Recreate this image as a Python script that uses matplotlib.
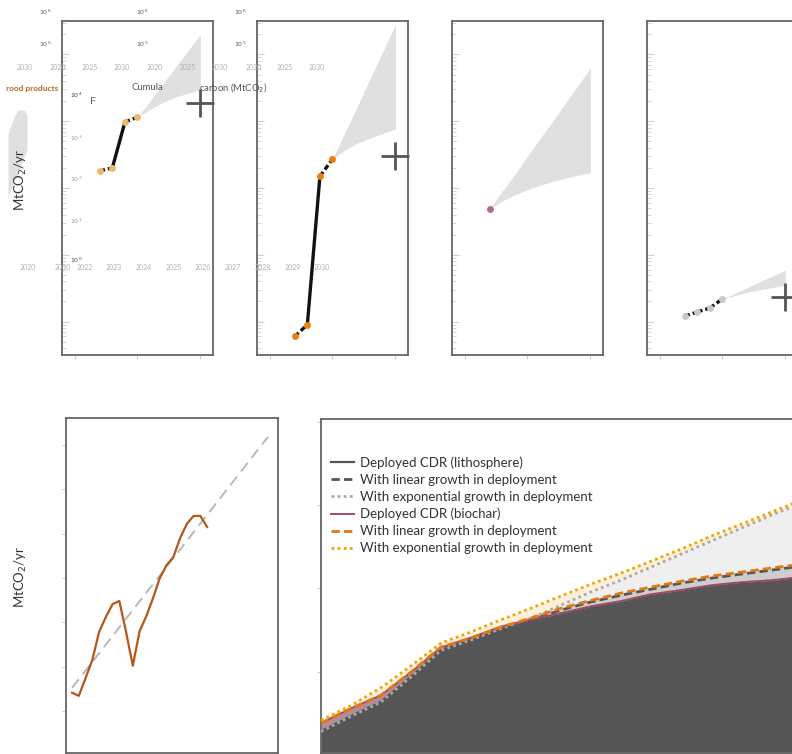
import numpy as np
import matplotlib
matplotlib.use('Agg')
import matplotlib.pyplot as plt
from matplotlib.ticker import LogLocator, NullFormatter

plt.rcParams['font.family'] = ['Lato', 'DejaVu Sans']

W, H = 792, 754

# ---- top row: annual removals (MtCO2/yr, log scale) ----
hist_years = [2022, 2023, 2024, 2025]
proj_years = [2025, 2026, 2027, 2028, 2029, 2030]

a_hist = [0.18, 0.20, 0.97, 1.15]
a_hi = [1.15, 2.0, 3.6, 6.4, 11.3, 20]
a_lo = [1.15, 1.5, 1.9, 2.3, 2.6, 3.0]
a_target = 1.9

b_hist = [6e-4, 9e-4, 0.15, 0.27]
b_hi = [0.27, 0.68, 1.7, 4.4, 11, 28]
b_lo = [0.27, 0.37, 0.47, 0.56, 0.66, 0.76]
b_target = 0.30

c_point_year = [2022]
c_point = [0.049]
c_years = [2022, 2023, 2024, 2025, 2026, 2027, 2028, 2029, 2030]
c_hi = [0.049, 0.09, 0.16, 0.30, 0.55, 1.0, 1.85, 3.4, 6.2]
c_lo = [0.049, 0.064, 0.079, 0.094, 0.11, 0.125, 0.14, 0.155, 0.17]

d_hist = [1.21e-3, 1.39e-3, 1.6e-3, 2.19e-3]
d_hi = [2.19e-3, 2.67e-3, 3.25e-3, 3.97e-3, 4.84e-3, 5.9e-3]
d_lo = [2.19e-3, 2.45e-3, 2.75e-3, 3.0e-3, 3.25e-3, 3.5e-3]
d_target = 2.34e-3

# stray fragment on the far left
blob_y = [3, 50, 67, 85, 90]
blob_left = [8, 8, 8, 15, 18]
blob_right = [8, 27, 27, 27, 24]

# ---- bottom left: annual series with trend ----
e_years = list(range(2000, 2021))
e_vals = [4.1, 3.4, 7.4, 11.5, 17.8, 21.2, 24.1, 24.8, 17.8, 10.2, 18.0,
          21.4, 25.5, 30.0, 32.9, 34.7, 39.0, 42.2, 44.0, 44.0, 41.5]
e_trend_years = [2000, 2029]
e_trend_vals = [5.2, 61.8]

# ---- bottom right: cumulative stored carbon (log scale) ----
f_years = [2022.0, 2022.5, 2023.0, 2023.5, 2024.0, 2024.5, 2025.0, 2025.5, 2026.0,
           2026.5, 2027.0, 2027.5, 2028.0, 2028.5, 2029.0, 2029.5, 2030.0]
litho_dep = [1.9, 2.9, 4.3, 8.6, 18, 24, 33, 40, 48, 58, 67, 81, 91, 104, 113, 119, 130]
biochar_dep = [0.5, 0.7, 0.9, 1.2, 1.5, 1.6, 1.8, 2.2, 2.6, 3.1, 3.6, 4.2, 4.8, 5.4, 6.0, 6.6, 7.2]
litho_lin = [1.9, 2.9, 4.3, 8.6, 18, 24, 33, 42, 55, 69, 83, 98, 116, 133, 149, 166, 186]
litho_exp = [1.9, 2.9, 4.3, 8.6, 18, 24, 33, 44, 63, 91, 126, 181, 259, 371, 531, 760, 1059]
biochar_lin = [2.4, 3.6, 5.2, 9.9, 19.8, 25.4, 34.4, 44, 58, 72, 88, 104, 122, 141, 157, 176, 196]
biochar_exp = [2.6, 3.9, 6.4, 11.7, 22, 30, 42, 58, 81, 113, 153, 213, 297, 426, 593, 826, 1151]
legend_labels = ['Deployed CDR (lithosphere)', 'With linear growth in deployment',
                 'With exponential growth in deployment', 'Deployed CDR (biochar)',
                 'With linear growth in deployment', 'With exponential growth in deployment']

# ---- stray texts ----
row1_labels = ['2030', '2020', '2025', '2030', '2020', '2025', '2030', '2020', '2025', '2030']
row2_labels = ['2020', '2030', '2022', '2023', '2024', '2025', '2026', '2027', '2028', '2029', '2030']
pow_labels = [r'$10^{4}$', r'$10^{3}$', r'$10^{2}$', r'$10^{1}$', r'$10^{0}$']

fig = plt.figure(figsize=(W / 100, H / 100), dpi=100)


def px_axes(x0, y0, x1, y1):
    return fig.add_axes([x0 / W, 1 - y1 / H, (x1 - x0) / W, (y1 - y0) / H])


def px_text(x, y, s, **kw):
    kw.setdefault('ha', 'center')
    kw.setdefault('va', 'center')
    fig.text(x / W, 1 - y / H, s, **kw)


def frame(ax):
    for s in ax.spines.values():
        s.set_color('#666666')
        s.set_linewidth(1.3)


def style_top(ax):
    ax.set_yscale('log')
    ax.set_xlim(2019, 2031)
    ax.set_ylim(10 ** -3.5, 10 ** 1.5)
    ax.set_xticks([2020, 2025, 2030])
    ax.tick_params(axis='x', direction='out', length=3, color='#cccccc', labelbottom=False)
    ax.yaxis.set_major_locator(LogLocator(base=10, numticks=12))
    ax.yaxis.set_minor_locator(LogLocator(base=10, subs=np.arange(2, 10), numticks=12))
    ax.yaxis.set_minor_formatter(NullFormatter())
    ax.tick_params(axis='y', which='both', direction='in', color='#d0d0d0', labelleft=False)
    ax.tick_params(axis='y', which='major', length=5)
    ax.tick_params(axis='y', which='minor', length=3)
    frame(ax)


def draw_hist(ax, years, vals, styles, color):
    for i, ls in enumerate(styles):
        ax.plot(years[i:i + 2], vals[i:i + 2], color='#111111', lw=2.4, ls=ls,
                solid_capstyle='butt', zorder=3)
    ax.plot(years, vals, 'o', ms=5, color=color, mec='none', zorder=4)


dash = (0, (1.6, 0.9))
fan_col = '#e0e0e0'

axA = px_axes(62, 21, 213, 355)
style_top(axA)
axA.fill_between(proj_years, a_lo, a_hi, color=fan_col, lw=0, zorder=1)
draw_hist(axA, hist_years, a_hist, [dash, '-', dash], '#f0b86e')
axA.plot([2030], [a_target], marker='+', ms=20, mew=2, color='#555555', zorder=5, clip_on=False)

axB = px_axes(257, 21, 408, 355)
style_top(axB)
axB.fill_between(proj_years, b_lo, b_hi, color=fan_col, lw=0, zorder=1)
draw_hist(axB, hist_years, b_hist, [dash, '-', dash], '#e8820c')
axB.plot([2030], [b_target], marker='+', ms=20, mew=2, color='#555555', zorder=5, clip_on=False)

axC = px_axes(452, 21, 603, 355)
style_top(axC)
axC.fill_between(c_years, c_lo, c_hi, color=fan_col, lw=0, zorder=1)
axC.plot(c_point_year, c_point, 'o', ms=5, color='#b07080', mec='none', zorder=4)

axD = px_axes(647, 21, 798, 355)
style_top(axD)
axD.fill_between(proj_years, d_lo, d_hi, color=fan_col, lw=0, zorder=1)
draw_hist(axD, hist_years, d_hist, [dash, dash, dash], '#c8c8c8')
axD.plot([2030], [d_target], marker='+', ms=20, mew=2, color='#555555', zorder=5, clip_on=False)

axBlob = px_axes(0, 100, 40, 200)
axBlob.set_xlim(0, 40)
axBlob.set_ylim(0, 100)
axBlob.axis('off')
axBlob.fill_betweenx(blob_y, blob_left, blob_right, color=fan_col, lw=0)

# ---- panel E ----
axE = px_axes(66, 418, 278, 753)
axE.plot(e_trend_years, e_trend_vals, color='#b4b4b4', lw=1.3, ls=(0, (6, 3.5)), zorder=2)
axE.plot(e_years, e_vals, color='#b5561b', lw=1.6, zorder=3)
axE.set_xlim(1999.1, 2030.5)
axE.set_ylim(-9.5, 66.1)
axE.set_yticks(range(0, 61, 10))
axE.set_xticks([])
axE.tick_params(axis='y', direction='out', length=3, color='#cccccc', labelleft=False)
frame(axE)

# ---- panel F ----
axF = px_axes(321, 419, 801, 753)
axF.set_yscale('log')
ybot = 10 ** 0.02
axF.set_ylim(ybot, 10 ** 4.04)
axF.set_xlim(2022, 2030)
total_dep = np.array(litho_dep) + np.array(biochar_dep)
axF.fill_between(f_years, ybot, litho_dep, color='#555555', lw=0, zorder=1)
axF.fill_between(f_years, litho_dep, total_dep, color='#b68b94', lw=0, zorder=1)
axF.fill_between(f_years, total_dep, biochar_lin, color='#cdcdcd', lw=0, zorder=0.9)
axF.fill_between(f_years, biochar_lin, litho_exp, color='#efefef', lw=0, zorder=0.8)
axF.fill_between(f_years, np.maximum(litho_exp, biochar_lin), biochar_exp,
                 color='#fcefdc', lw=0, zorder=0.7)
dot = (0, (1, 1.2))
h1, = axF.plot(f_years, litho_dep, color='#555555', lw=1.6, zorder=3)
h2, = axF.plot(f_years, litho_lin, color='#555555', lw=2, ls=(0, (3, 1.5)), zorder=3)
h3, = axF.plot(f_years, litho_exp, color='#aaaaaa', lw=2, ls=dot, zorder=3)
h4, = axF.plot(f_years, total_dep, color='#a04a68', lw=1.4, zorder=3)
h5, = axF.plot(f_years, biochar_lin, color='#e07a10', lw=2, ls=(0, (3, 1.5)), zorder=4)
h6, = axF.plot(f_years, biochar_exp, color='#f0a500', lw=2, ls=dot, zorder=4)
axF.yaxis.set_major_locator(LogLocator(base=10, numticks=8))
axF.yaxis.set_minor_locator(LogLocator(base=10, subs=[], numticks=8))
axF.set_xticks([])
axF.tick_params(axis='y', which='major', direction='out', length=3, color='#cccccc', labelleft=False)
frame(axF)
axF.legend([h1, h2, h3, h4, h5, h6], legend_labels, loc='upper left',
           bbox_to_anchor=(331 / W, 1 - 456 / H), bbox_transform=fig.transFigure,
           frameon=False, fontsize=9.5, handlelength=1.75, handletextpad=0.45,
           labelspacing=0.38, borderpad=0, borderaxespad=0, labelcolor='#333333')

# ---- axis titles ----
px_text(21, 180, 'MtCO$_2$/yr', rotation=90, fontsize=9.5, color='#333333')
px_text(21, 577, 'MtCO$_2$/yr', rotation=90, fontsize=9.5, color='#333333')

# ---- stray labels over the top row ----
grey = '#b0b0b0'
for x, s in zip([25, 58, 90, 122, 155, 188, 220, 254, 285, 317], row1_labels):
    px_text(x, 68, s, fontsize=5, color=grey)
for x, s in zip([28, 63, 85, 114, 144, 174, 203, 233, 263, 293, 322], row2_labels):
    px_text(x, 268, s, fontsize=5, color=grey)
for x in [45, 142, 240]:
    px_text(x, 12, r'$10^{6}$', fontsize=4.5, color='#555555')
    px_text(x, 44, r'$10^{5}$', fontsize=4.5, color='#555555')
for y, s in zip([95, 138, 179, 221, 260], pow_labels):
    px_text(76, y, s, fontsize=4.5, color='#444444' if y in (95, 260) else '#999999')
px_text(93, 102, 'F', fontsize=7.5, color='#666666')
px_text(58, 88, 'rood products', ha='right', fontsize=6, fontweight='bold', color='#c0661c')
px_text(132, 88, 'Cumula', ha='left', fontsize=6.8, color='#555555')
px_text(199, 88, 'carbon (MtCO$_2$)', ha='left', fontsize=6.8, color='#555555')

fig.savefig('out.png', dpi=100)
